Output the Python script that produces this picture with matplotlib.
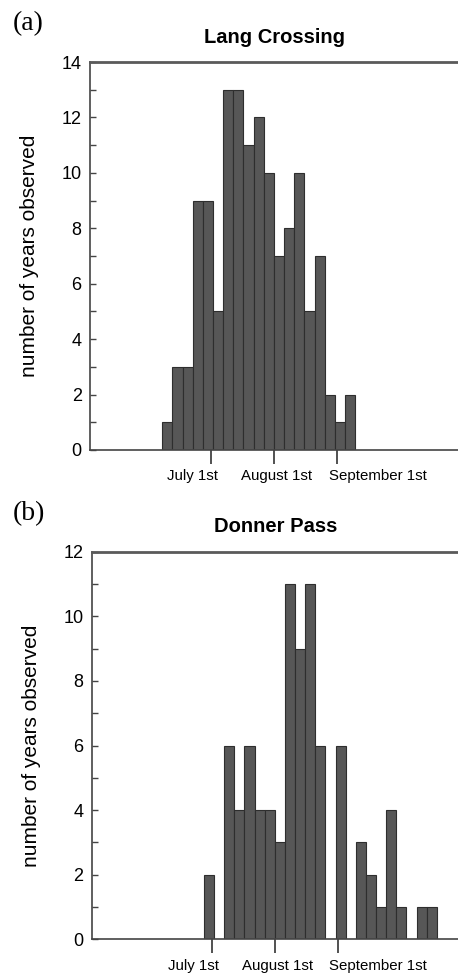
import numpy as np
import matplotlib.pyplot as plt
import matplotlib.transforms as mtransforms
from matplotlib.ticker import MultipleLocator

# ------------------------------------------------------------
# Données : début de chaque classe (jour de l'année), 5 jours de large
# ------------------------------------------------------------
bin_width = 5

lang_starts = [158, 163, 168, 173, 178, 183, 188, 193, 198, 203,
               208, 213, 218, 223, 228, 233, 238, 243, 248]
lang_counts = [1, 3, 3, 9, 9, 5, 13, 13, 11, 12,
               10, 7, 8, 10, 5, 7, 2, 1, 2]

donner_starts = [178, 183, 188, 193, 198, 203, 208, 213, 218, 223, 228, 233,
                 238, 243, 248, 253, 258, 263, 268, 273, 278, 283, 288]
donner_counts = [2, 0, 6, 4, 6, 4, 4, 3, 11, 9, 11, 6,
                 0, 6, 0, 3, 2, 1, 4, 1, 0, 1, 1]

tick_days = [182, 213, 244]
tick_labels = ['July 1st', 'August 1st', 'September 1st']

plt.rcParams['font.family'] = ['Liberation Sans', 'DejaVu Sans']

fig = plt.figure(figsize=(4.58, 9.75), dpi=100)

W, H = 458, 975


def make_axes(left, top, right, bottom):
    return fig.add_axes([left / W, 1 - bottom / H, (right - left) / W, (bottom - top) / H])


panels = [
    (make_axes(90, 62, 459, 450), lang_starts, lang_counts, 'Lang Crossing', 14, '(a)'),
    (make_axes(91.7, 551.7, 459, 939.3), donner_starts, donner_counts, 'Donner Pass', 12, '(b)'),
]

# alignement / décalage (en points) des étiquettes de dates, comme sur l'original
label_align = [('right', 5), ('center', 2), ('left', -6)]

for ax, starts, counts, title, ymax, letter in panels:
    ax.bar(starts, counts, width=bin_width, align='edge',
           color='#575757', edgecolor='#2e2e2e', linewidth=0.8)
    ax.set_xlim(122.5, 304)
    ax.set_ylim(0, ymax)

    ax.set_xticks(tick_days)
    ax.set_xticklabels(tick_labels, fontsize=10.8)
    ax.tick_params(axis='x', direction='out', length=10, width=1.2,
                   color='#333333', pad=4)
    for lab, (ha, dx) in zip(ax.get_xticklabels(), label_align):
        lab.set_horizontalalignment(ha)
        lab.set_transform(lab.get_transform() +
                          mtransforms.ScaledTranslation(dx / 72, 0, fig.dpi_scale_trans))

    ax.yaxis.set_major_locator(MultipleLocator(2))
    ax.yaxis.set_minor_locator(MultipleLocator(1))
    ax.tick_params(axis='y', which='both', direction='in', length=4,
                   width=1.0, color='#444444', labelsize=13, pad=6)

    for side in ['left', 'bottom']:
        ax.spines[side].set_color('#444444')
        ax.spines[side].set_linewidth(1.2)
    ax.spines['top'].set_color('#5a5a5a')
    ax.spines['top'].set_linewidth(2.0)
    ax.spines['right'].set_visible(False)

    ax.set_title(title, fontsize=14.5, fontweight='bold', pad=14)
    ax.set_ylabel('number of years observed', fontsize=15)
    ax.yaxis.set_label_coords(-0.138, 0.5)

    # lettre du panneau (en haut à gauche)
    bbox = ax.get_position()
    fig.text(0.028, bbox.y1 + 0.052, letter, fontsize=20,
             family=['Liberation Serif', 'DejaVu Serif'], va='top', ha='left')

fig.savefig('out.png', dpi=100)
